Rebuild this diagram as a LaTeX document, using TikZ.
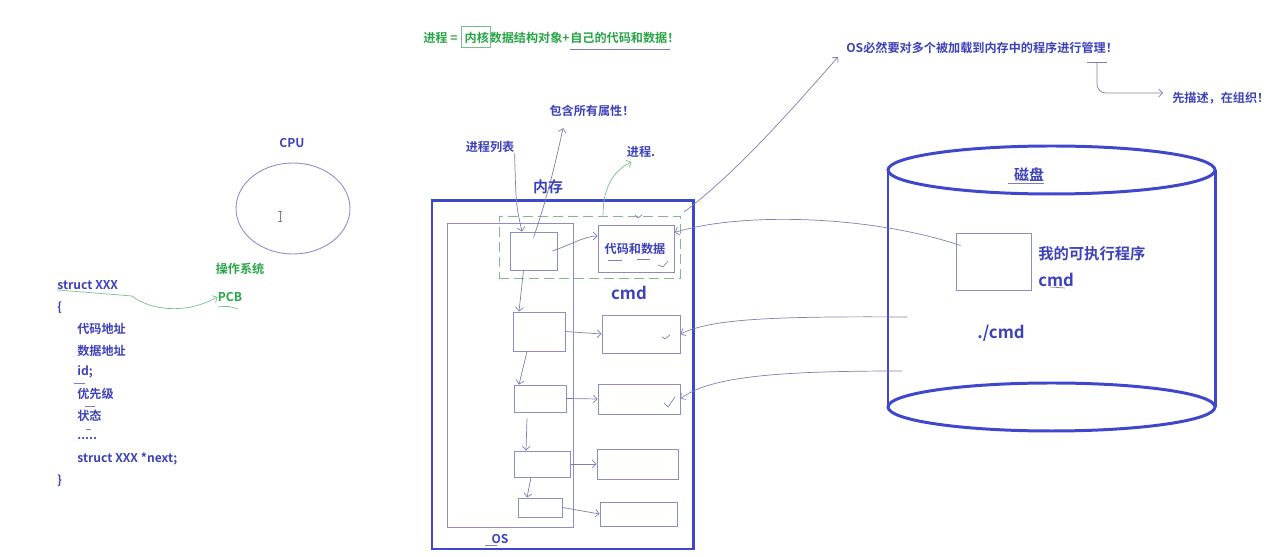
\documentclass[tikz,border=0pt]{standalone}
\usepackage{fontspec}
\setmainfont{Noto Sans CJK SC}[BoldFont={Noto Sans CJK SC Bold}]
\usetikzlibrary{arrows.meta,shapes.geometric}

\definecolor{penblue}{RGB}{63,72,204}
\definecolor{inkblue}{RGB}{62,66,184}
\definecolor{inkgreen}{RGB}{40,165,70}
\definecolor{wiregray}{RGB}{125,128,172}
\definecolor{boxgray}{RGB}{140,140,200}
\definecolor{dashgreen}{RGB}{120,190,140}

\tikzset{
  note/.style={inner sep=0pt, text=inkblue, font=\fontsize{6.9}{8}\selectfont\bfseries},
  gnote/.style={note, text=inkgreen},
  bignote/.style={note, font=\fontsize{9.5}{11}\selectfont\bfseries},
  cell/.style={draw=boxgray, line width=0.5pt, inner sep=0pt},
  scrib/.style={draw=wiregray, line width=0.4pt},
  wire/.style={scrib, -{Straight Barb[length=2.2pt,width=4.5pt]}},
  gwire/.style={wire, draw=dashgreen}
}

\begin{document}
\begin{tikzpicture}[x=0.2mm, y=-0.2mm]
    \useasboundingbox (0,0) rectangle (1284,557);

    % title lines
    \node[gnote, anchor=west] (teq) at (423,38) {进程 =};
    \node[gnote, anchor=base west] (tker) at ([xshift=1.3mm]teq.base east) {内核};
    \node[gnote, anchor=base west] (tobj) at (tker.base east) {数据结构对象+};
    \node[gnote, anchor=base west] (town) at (tobj.base east) {自己的代码和数据！};
    \draw[scrib, draw=dashgreen] ([shift={(-0.7mm,1mm)}]tker.north west) rectangle ([shift={(0.3mm,-0.7mm)}]tker.south east);
    \draw[scrib] ([yshift=-1.1mm]town.south west) -- ([shift={(-2mm,-1.1mm)}]town.south east);

    \node[note, anchor=west] (osmsg) at (846,48) {OS必然要对多个被加载到内存中的程序进行管理！};
    \node[note, anchor=west] (todo) at (1172,98) {先描述，在组织！};
    \coordinate (osmark) at (1097,62);
    \draw[scrib] (1087,62) -- (1107,62);
    \draw[wire, rounded corners=5pt] (osmark) |- ([shift={(-1.8mm,1mm)}]todo.west);

    % cpu
    \node[note] (cpulbl) at (292,143) {CPU};
    \node[ellipse, draw=boxgray, line width=0.5pt, minimum width=22.8mm, minimum height=18.2mm] (cpu) at (293,208.5) {};
    \draw[gray, line width=0.5pt] (280,211) -- (280,221) (278,211) -- (282,211) (278,221) -- (282,221);

    % struct
    \node[gnote] (osname) at (240,269) {操作系统};
    \node[gnote] (pcb) at (230,297) {PCB};
    \draw[scrib, draw=dashgreen] (218,307) .. controls (228,306) .. (238,309);
    \node[note, anchor=west] (shead) at (57,285) {struct XXX};
    \node[note, anchor=west] (sopen) at (57,308) {\{};
    \node[note, anchor=west] (sf1) at (77,329) {代码地址};
    \node[note, anchor=west] (sf2) at (77,351) {数据地址};
    \node[note, anchor=west] (sf3) at (77,372) {id;};
    \node[note, anchor=west] (sf4) at (77,394) {优先级};
    \node[note, anchor=west] (sf5) at (77,416) {状态};
    \node[note, anchor=west] (sf6) at (77,439) {.....};
    \node[note, anchor=west] (sf7) at (77,459) {struct XXX *next;};
    \node[note, anchor=west] (sclose) at (57,481) {\}};
    \draw[scrib] (74,383) -- (85,383) (85,406) -- (95,406) (86,429) -- (91,429);
    \draw[gwire] (shead.south west) -- (132,296) .. controls (150,310) and (185,315) .. (pcb.west);

    % memory
    \node[note, font=\fontsize{8.5}{10}\selectfont\bfseries] (memlbl) at (548,187) {内存};
    \node[draw=penblue, line width=1.7pt, inner sep=0pt, minimum width=52.2mm, minimum height=69.6mm] (mem) at (562.5,375) {};
    \node[cell, minimum width=25.2mm, minimum height=60.8mm] (osbox) at (510,375) {};
    \node[note] (oslbl) at (500,539) {OS};
    \draw[scrib] (485,545) -- (497,545);
    \node[draw=dashgreen, dash pattern=on 2mm off 1mm, line width=0.5pt, inner sep=0pt, minimum width=36.2mm, minimum height=12.4mm] (proc) at (589.5,247) {};
    \draw[scrib] (635,215) -- (638,218) -- (642,215);

    \node[cell, minimum width=9.4mm, minimum height=7.6mm] (pcb1) at (533.5,251) {};
    \node[cell, minimum width=10.4mm, minimum height=7.8mm] (pcb2) at (539,331.5) {};
    \node[cell, minimum width=10.4mm, minimum height=5.4mm] (pcb3) at (540,398.5) {};
    \node[cell, minimum width=11.2mm, minimum height=5.2mm] (pcb4) at (542,464) {};
    \node[cell, minimum width=8.8mm, minimum height=3.8mm] (pcb5) at (540,507.5) {};

    \node[cell, minimum width=15.2mm, minimum height=9.4mm] (code1) at (636,248.5) {};
    \node[cell, minimum width=15.6mm, minimum height=7.6mm] (code2) at (641,334) {};
    \node[cell, minimum width=16.4mm, minimum height=6mm] (code3) at (639,399) {};
    \node[cell, minimum width=16.2mm, minimum height=6mm] (code4) at (637.5,464) {};
    \node[cell, minimum width=15.4mm, minimum height=4.8mm] (code5) at (638.5,514) {};
    \node[note] (codetxt) at (635,249) {代码和数据};
    \draw[scrib] (608,260) -- (622,260) (637,259) -- (650,259);
    \draw[scrib] (658,265) -- (663,267) -- (668,261);
    \draw[scrib] (662,337) -- (665,339) -- (670,335);
    \draw[scrib] (664,403) -- (668,407) -- (675,397);
    \node[bignote] (cmdmem) at (629,293) {cmd};

    \node[note] (attrs) at (592,111) {包含所有属性！};
    \node[note] (plist) at (490,147) {进程列表};
    \node[note] (proclbl) at (641,152) {进程.};

    \draw[wire] (plist.south east) .. controls (516,205) .. ([xshift=-2.3mm]pcb1.north);
    \draw[wire] ([yshift=-1.2mm]pcb1.north) .. controls (550,190) and (558,150) .. ([shift={(2.8mm,-2.2mm)}]attrs.south west);
    \draw[gwire] ([xshift=2.7mm]proc.north) .. controls (603,185) and (615,170) .. ([shift={(1mm,-0.8mm)}]proclbl.south west);

    \draw[wire] ([xshift=-1mm]pcb1.east) .. controls (570,245) and (585,236) .. ([yshift=2.5mm]code1.west);
    \draw[wire] (pcb2.east) -- (code2.west);
    \draw[wire] (pcb3.east) -- (code3.west);
    \draw[wire] (pcb4.east) -- (code4.west);
    \draw[wire] (pcb5.east) -- (code5.west);

    \draw[wire] ([xshift=-2mm]pcb1.south) -- ([xshift=-4mm]pcb2.north);
    \draw[wire] ([xshift=-2.4mm]pcb2.south) -- ([xshift=-4.2mm]pcb3.north);
    \draw[wire] ([shift={(-2.6mm,-1.2mm)}]pcb3.south) -- ([xshift=-3.2mm]pcb4.north);
    \draw[wire] ([xshift=-2.2mm]pcb4.south) -- ([xshift=-2.6mm]pcb5.north);

    % disk
    \draw[penblue, line width=1.7pt] (888,170) -- (888,407) (1215,170) -- (1215,407);
    \draw[penblue, line width=1.7pt] (1051.5,170) ellipse [x radius=163.5, y radius=24];
    \draw[penblue, line width=1.7pt] (1051.5,407) ellipse [x radius=163.5, y radius=24];
    \node[note, font=\fontsize{8.5}{10}\selectfont\bfseries] (disklbl) at (1029,175) {磁盘};
    \draw[scrib] (1008,183) -- (1044,183);
    \node[cell, minimum width=15mm, minimum height=11.4mm] (exe) at (993.5,261.5) {};
    \node[note, font=\fontsize{8.7}{10}\selectfont\bfseries, anchor=west] (exelbl) at (1038,254) {我的可执行程序};
    \node[bignote, anchor=west] (execmd) at (1038,280) {cmd};
    \draw[scrib] (1050,287) -- (1065,288);
    \node[bignote] (runcmd) at (1001,333) {./cmd};
    \coordinate (d2) at (907,317);
    \coordinate (d3) at (902,371);

    \draw[wire] ([shift={(1mm,-2.6mm)}]exe.north west) .. controls (870,215) and (740,212) .. ([yshift=3.2mm]code1.east);
    \draw[wire] (d2) .. controls (760,316) and (710,320) .. (code2.east);
    \draw[wire] (d3) .. controls (790,371) and (710,375) .. (code3.east);

    \coordinate (memtap) at (684,212);
    \draw[wire] (memtap) .. controls (740,170) and (800,100) .. ([shift={(-1.6mm,-1.8mm)}]osmsg.west);
\end{tikzpicture}
\end{document}
